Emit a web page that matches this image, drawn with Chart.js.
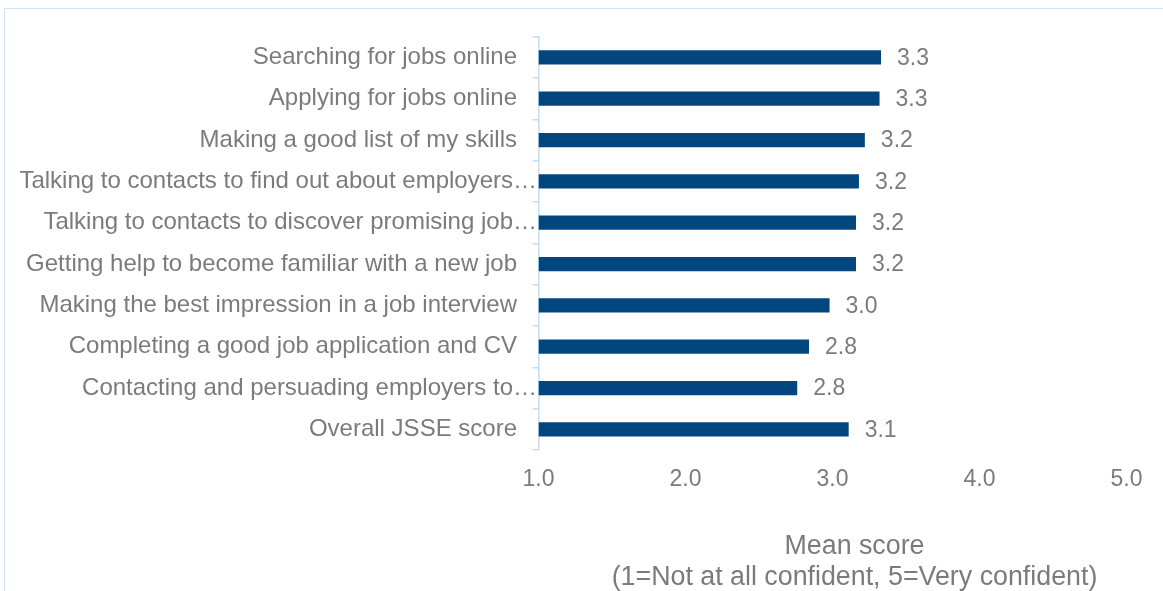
<!DOCTYPE html>
<html>
<head>
<meta charset="utf-8">
<title>Job search self-efficacy: mean scores</title>
<script src="https://cdn.jsdelivr.net/npm/chart.js@4.4.1/dist/chart.umd.min.js"></script>
<style>
  html, body { margin: 0; padding: 0; background: #ffffff; overflow: hidden; }
  #frame {
    position: absolute; left: 4px; top: 8px; width: 1400px; height: 800px;
    border: 1px solid #cfe3f8; box-sizing: border-box;
  }
  #wrap { position: absolute; left: 0; top: 0; width: 1163px; height: 591px; }
</style>
</head>
<body>
<div id="frame"></div>
<div id="wrap"><canvas id="chart" width="1163" height="591"></canvas></div>
<script>
// Items of the job search self-efficacy scale, top to bottom
const categories = [
  "Searching for jobs online",
  "Applying for jobs online",
  "Making a good list of my skills",
  "Talking to contacts to find out about employers…",
  "Talking to contacts to discover promising job…",
  "Getting help to become familiar with a new job",
  "Making the best impression in a job interview",
  "Completing a good job application and CV",
  "Contacting and persuading employers to…",
  "Overall JSSE score"
];

// Mean score per item (1 = not at all confident, 5 = very confident)
const meanScores = [3.33, 3.32, 3.22, 3.18, 3.16, 3.16, 2.98, 2.84, 2.76, 3.11];

// Value axis ticks
const xTickValues = [1, 2, 3, 4, 5];

// Value axis title, two lines
const axisTitleLines = ["Mean score", "(1=Not at all confident, 5=Very confident)"];

const FONT = "'Liberation Sans', Arial, Helvetica, sans-serif";
const TEXT_GREY = "#7b7b7b";
const BAR_BLUE = "#02467f";
const AXIS_BLUE = "#c4dcf4";

// Value labels just past the end of each bar
const valueLabels = {
  id: "valueLabels",
  afterDatasetsDraw(chart) {
    const ctx = chart.ctx;
    const meta = chart.getDatasetMeta(0);
    ctx.save();
    ctx.font = "23px " + FONT;
    ctx.fillStyle = TEXT_GREY;
    ctx.textAlign = "left";
    ctx.textBaseline = "middle";
    meta.data.forEach((bar, i) => {
      ctx.fillText(meanScores[i].toFixed(1), bar.x + 16, bar.y + 1);
    });
    ctx.restore();
  }
};

// Two-line title under the value axis
const axisTitle = {
  id: "axisTitle",
  afterDraw(chart) {
    const ctx = chart.ctx;
    const area = chart.chartArea;
    const cx = (area.left + area.right) / 2 + 22;
    ctx.save();
    ctx.font = "26.8px " + FONT;
    ctx.fillStyle = TEXT_GREY;
    ctx.textAlign = "center";
    ctx.textBaseline = "middle";
    ctx.fillText(axisTitleLines[0], cx, area.bottom + 97);
    ctx.fillText(axisTitleLines[1], cx, area.bottom + 128);
    ctx.restore();
  }
};

new Chart(document.getElementById("chart"), {
  type: "bar",
  data: {
    labels: categories,
    datasets: [{
      data: meanScores,
      base: 1,
      backgroundColor: BAR_BLUE,
      borderWidth: 0,
      barPercentage: 0.345,
      categoryPercentage: 1.0
    }]
  },
  options: {
    indexAxis: "y",
    responsive: false,
    animation: false,
    devicePixelRatio: 1,
    layout: { padding: { left: 4, right: 36.5, top: 36.7, bottom: 0 } },
    plugins: {
      legend: { display: false },
      tooltip: { enabled: false },
      title: { display: false }
    },
    scales: {
      x: {
        type: "linear",
        min: 1,
        max: 5,
        afterBuildTicks(scale) {
          scale.ticks = xTickValues.map(v => ({ value: v }));
        },
        afterFit(scale) { scale.height = 141; },
        grid: { display: false, drawTicks: false },
        border: { display: false },
        ticks: {
          callback: v => Number(v).toFixed(1),
          color: TEXT_GREY,
          font: { family: FONT, size: 23 },
          padding: 16,
          maxRotation: 0
        }
      },
      y: {
        afterFit(scale) { scale.width = 534.5; },
        grid: {
          offset: true,
          drawOnChartArea: false,
          drawTicks: true,
          tickLength: 6,
          color: AXIS_BLUE,
          lineWidth: 1.5
        },
        border: { display: true, color: AXIS_BLUE, width: 1.5 },
        ticks: {
          // full-length labels sit a little left of the clipped ones
          callback(value) {
            const label = categories[value];
            return label.endsWith("…") ? label : label + "   ";
          },
          color: TEXT_GREY,
          font: { family: FONT, size: 24 },
          padding: -4.5,
          autoSkip: false
        }
      }
    }
  },
  plugins: [valueLabels, axisTitle]
});
</script>
</body>
</html>
